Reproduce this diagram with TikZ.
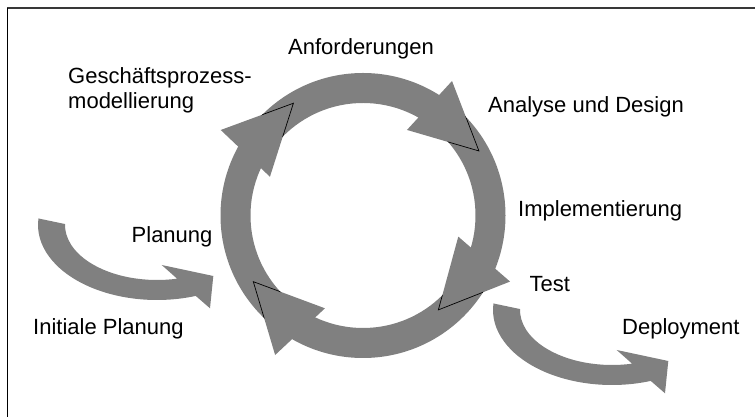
\documentclass[tikz,border=0pt]{standalone}
\usepackage{fontspec}
\setmainfont{Liberation Sans}
\begin{document}
\begin{tikzpicture}[x=1pt,y=1pt,
  lbl/.style={inner sep=0pt, anchor=base west, font=\fontsize{22}{25}\selectfont},
  band/.style={fill=black!50, draw=none},
  tipline/.style={draw=black, line width=0.7pt},
  sidearrow/.pic={
    \fill[band] (175:119 and 75) arc[start angle=175, end angle=289, x radius=119, y radius=75]
      -- (53,-83.3) -- (56.3,-51) -- (4.7,-40) -- (282.6:92 and 55)
      arc[start angle=282.6, end angle=179, x radius=92, y radius=55] -- cycle;
  }]
\useasboundingbox (0,0) rectangle (755,417);
% frame
\coordinate (ftl) at (7.3,408.7);
\coordinate (ftr) at (755,408.7);
\coordinate (fbl) at (7.3,0);
\draw[line width=2pt, black!78] (ftl) -- (ftr);
\draw[line width=1.6pt, black] (ftl) -- (fbl);
% ring
\coordinate (C) at (363,201.5);
\fill[band, even odd rule] (C) circle[radius=142.5] (C) circle[radius=112.5];
% arrowheads on the ring
\begin{scope}[shift={(C)}]
  \fill[band] (29.1:132.7) -- (56.5:161.3) -- (62.8:96.2) -- cycle;
  \fill[band] (-51.4:120.8) -- (-24.2:161.2) -- (-12.5:97.6) -- cycle;
  \fill[band] (211.1:128.1) -- (237.8:164.9) -- (247.7:100.3) -- cycle;
  \fill[band] (121.8:132.1) -- (149:166) -- (157.4:100.8) -- cycle;
\end{scope}
\begin{scope}[shift={(C)}, even odd rule]
  \clip (0,0) circle[radius=142.5] (0,0) circle[radius=112.5];
  \draw[tipline] (56.5:161.3) -- (29.1:132.7) -- (62.8:96.2);
  \draw[tipline] (-24.2:161.2) -- (-51.4:120.8) -- (-12.5:97.6);
  \draw[tipline] (237.8:164.9) -- (211.1:128.1) -- (247.7:100.3);
  \draw[tipline] (149:166) -- (121.8:132.1) -- (157.4:100.8);
\end{scope}
% side arrows
\pic (leftarrow) at (157,192) {sidearrow};
\pic (rightarrow) at (612,107) {sidearrow};
% labels
\node[lbl] (anf) at (288,362) {Anforderungen};
\node[lbl, align=left] (gp) at (68,308) {Geschäftsprozess-\\modellierung};
\node[lbl] (aud) at (488,304) {Analyse und Design};
\node[lbl] (impl) at (518,200) {Implementierung};
\node[lbl] (plan) at (131.5,174) {Planung};
\node[lbl] (test) at (529.5,125) {Test};
\node[lbl] (init) at (33,82) {Initiale Planung};
\node[lbl] (depl) at (622,82) {Deployment};
\end{tikzpicture}
\end{document}
